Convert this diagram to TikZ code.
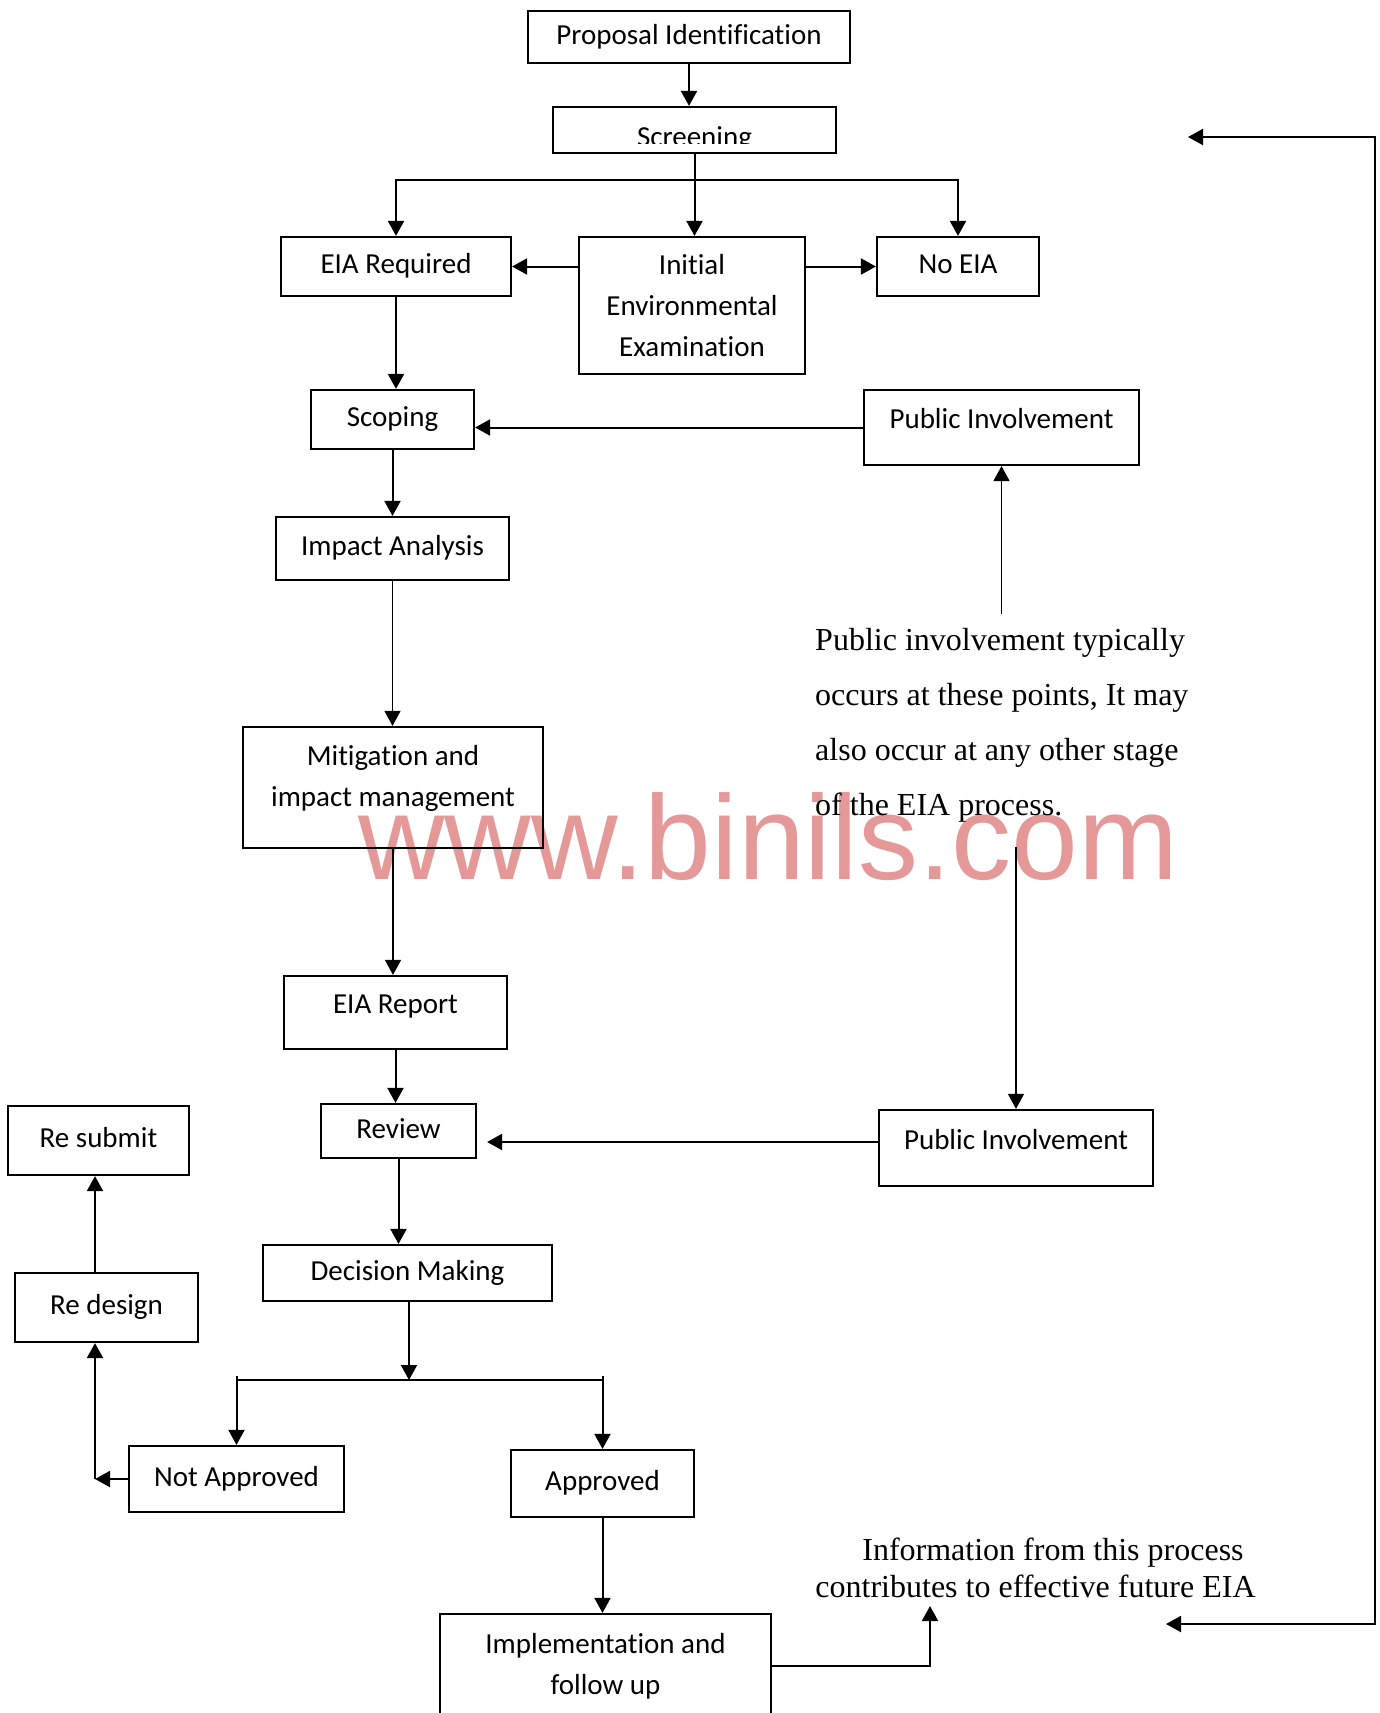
\documentclass[tikz,border=0pt]{standalone}
\usepackage{fontspec}
\setmainfont{Liberation Serif}
\newfontfamily\boxfont[RawFeature={-liga;-clig;-dlig;-calt;-rlig}]{Carlito}
\newfontfamily\markfont{Liberation Sans}
\usepackage{xcolor}
\definecolor{markpink}{RGB}{229,152,152}
\usepackage{tikz}
\usetikzlibrary{arrows.meta}

\tikzset{
  stage/.style={draw, line width=2.2pt, inner sep=0pt, align=center,
    font={\boxfont\fontsize{29pt}{41pt}\selectfont}},
  box/.style={stage, text height=20pt, text depth=6pt},
  arr/.style={line width=2pt, -{Triangle[length=15pt,width=16pt]}},
  note/.style={inner sep=0pt, font={\fontsize{32pt}{55pt}\selectfont}},
}

\begin{document}
\begin{tikzpicture}[x=1pt, y=-1pt]
        \useasboundingbox (0,0) rectangle (1379,1713);
        % watermark
        \node[anchor=base west, inner sep=0pt, text=markpink, font={\markfont\fontsize{120pt}{120pt}\selectfont}] (mark) at (358,879) {www.binils.com};

        % stages
        \node[box, minimum width=322pt, minimum height=52pt] (propid) at (689,37) {Proposal Identification};
        \node[box, minimum width=283pt, minimum height=46pt] (screen) at (694.5,130) {};
        \begin{scope}
          \clip (screen.north west) rectangle ([yshift=11pt]screen.south east);
          \node[stage, draw=none, anchor=base] (screentxt) at (694.5,146) {Screening};
        \end{scope}
        \node[box, minimum width=230pt, minimum height=59pt] (eiareq) at (396,266.5) {EIA Required};
        \node[stage, minimum width=226pt, minimum height=137pt] (iee) at (692,305.5) {Initial\\Environmental\\Examination};
        \node[box, minimum width=162pt, minimum height=59pt] (noeia) at (958,266.5) {No EIA};
        \node[box, minimum width=163pt, minimum height=59pt] (scoping) at (392.5,419.5) {Scoping};
        \node[box, text depth=18pt, minimum width=275pt, minimum height=75pt] (pubone) at (1001.5,427.5) {Public Involvement};
        \node[box, minimum width=233pt, minimum height=63pt] (impact) at (392.5,548.5) {Impact Analysis};
        \node[stage, minimum width=300pt, minimum height=121pt] (mitig) at (393,787.5) {Mitigation and\\impact management\rule[-24pt]{0pt}{24pt}};
        \node[box, text depth=18pt, minimum width=223pt, minimum height=73pt] (eiarep) at (395.5,1012.5) {EIA Report};
        \node[box, minimum width=155pt, minimum height=54pt] (review) at (398.5,1131) {Review};
        \node[box, text depth=18pt, minimum width=274pt, minimum height=76pt] (pubtwo) at (1016,1148) {Public Involvement};
        \node[box, minimum width=181pt, minimum height=69pt] (resubmit) at (98.5,1140.5) {Re submit};
        \node[box, minimum width=183pt, minimum height=69pt] (redesign) at (106.5,1307.5) {Re design};
        \node[box, minimum width=289pt, minimum height=56pt] (decision) at (407.5,1273) {Decision Making};
        \node[box, minimum width=215pt, minimum height=66pt] (notapp) at (236.5,1479) {Not Approved};
        \node[box, minimum width=183pt, minimum height=67pt] (approved) at (602.5,1483.5) {Approved};
        \node[stage, minimum width=331pt, minimum height=104pt] (impl) at (605.5,1666) {Implementation and\\follow up};

        % notes
        \node[note, align=left, anchor=north west] (pinote) at (815,628) {Public involvement typically\\occurs at these points, It may\\also occur at any other stage\\of the EIA process.};
        \node[note, font={\fontsize{32pt}{37pt}\selectfont}, align=center, anchor=north] (infonote) at (1035.5,1538) {\hspace*{35pt}Information from this process\\contributes to effective future EIA};

        % points
        \coordinate (split) at (692,180);
        \coordinate (fork) at (409,1380);
        \coordinate (forkup) at ([yshift=4pt]fork);
        \coordinate (back) at (95,1479);
        \coordinate (pitop) at ([yshift=14pt]pinote.north);
        \coordinate (pibot) at ([yshift=-25pt]pinote.south);
        \coordinate (pubout) at ([yshift=6pt]pubtwo.west);
        \coordinate (revin) at ([xshift=10pt]review.east);
        \coordinate (infoin) at (930,1606);
        \coordinate (fbend) at (1166,1624);
        \coordinate (fbcorner) at (1375,137);
        \coordinate (fbtop) at (1188,137);

        % connectors
        \draw[arr] (propid.south) -- (propid.south |- screen.north);
        \draw[arr] (screen.south) -- (screen.south |- iee.north);
        \draw[arr] (split) -| (eiareq);
        \draw[arr] (split) -| (noeia);
        \draw[arr] (iee.west |- eiareq) -- (eiareq);
        \draw[arr] (iee.east |- noeia) -- (noeia);
        \draw[arr] (eiareq) -- (eiareq |- scoping.north);
        \draw[arr] (pubone) -- (pubone -| scoping.east);
        \draw[arr] (scoping) -- (scoping |- impact.north);
        \draw[arr, line width=1.3pt] (impact) -- (impact |- mitig.north);
        \draw[arr, line width=1.3pt] (mitig) -- (mitig |- eiarep.north);
        \draw[arr, line width=1.3pt] (pitop -| pubone) -- (pubone);
        \draw[arr, line width=1.3pt] (pibot -| pubtwo) -- (pubtwo);
        \draw[arr] (eiarep) -- (eiarep |- review.north);
        \draw[arr] (pubout) -- (pubout -| revin);
        \draw[arr] (review) -- (review |- decision.north);
        \draw[arr] (decision.south -| fork) -- (fork);
        \draw[line width=2pt] (fork -| notapp) -- (fork -| approved);
        \draw[arr] (forkup -| notapp) -- (notapp);
        \draw[arr] (forkup -| approved) -- (approved);
        \draw[arr] (notapp) -- (notapp -| back);
        \draw[arr] (back) -- (back |- redesign.south);
        \draw[arr] (redesign.north -| back) -- (back |- resubmit.south);
        \draw[arr] (approved) -- (approved |- impl.north);
        \draw[arr] (impl.east) -| (infoin);
        \draw[line width=2pt, {Triangle[length=15pt,width=16pt]}-{Triangle[length=15pt,width=16pt]}] (fbend) -| (fbcorner) -- (fbtop);
      \end{tikzpicture}
\end{document}
